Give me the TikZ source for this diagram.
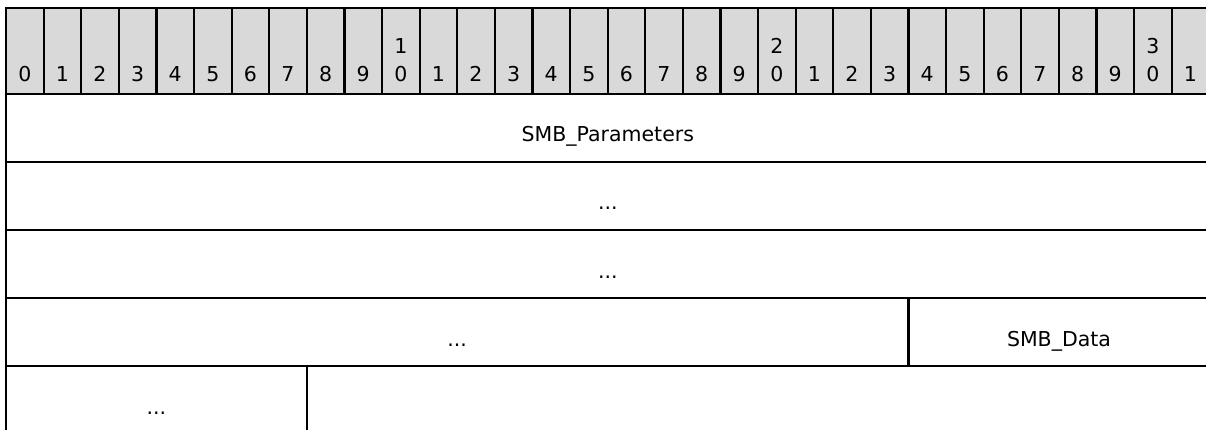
\documentclass[tikz,border=0pt]{standalone}
\usepackage{fontspec}
\setmainfont{DejaVu Sans}

\tikzset{
  bitcell/.style={draw, fill=black!15},
  fieldcell/.style={draw},
  fieldtext/.style={anchor=base, inner sep=0pt, font=\fontsize{20.5}{28}\selectfont}
}

\begin{document}
\begin{tikzpicture}[x=1pt, y=-1pt, line width=2.2pt]

		% Page size, the right and bottom edges are cut off
		\useasboundingbox (0,0) rectangle (1206,430);

		% Header row with the bit numbers
		\foreach \i in {0,...,31} {
			\draw[bitcell] (6+\i*37.6,8) rectangle (43.6+\i*37.6,94);
			\pgfmathtruncatemacro{\lo}{mod(\i,10)}
			\pgfmathtruncatemacro{\hi}{div(\i,10)}
			\node[fieldtext] (bit\i) at (24.8+\i*37.6,82) {\lo};
			\ifnum\lo=0 \ifnum\hi>0
				\node[fieldtext] (bithi\i) at (24.8+\i*37.6,54) {\hi};
			\fi\fi
		}

		% Fields
		\draw[fieldcell] (6,94) rectangle (1209.7,162);
		\node[fieldtext] (params) at (607.8,142) {SMB\_Parameters};

		\draw[fieldcell] (6,162) rectangle (1209.7,230);
		\node[fieldtext] (dotsa) at (607.8,210) {...};

		\draw[fieldcell] (6,230) rectangle (1209.7,298);
		\node[fieldtext] (dotsb) at (607.8,278) {...};

		\draw[fieldcell] (6,298) rectangle (908.4,366);
		\node[fieldtext] (dotsc) at (457.2,346) {...};
		\draw[fieldcell] (908.4,298) rectangle (1209.7,366);
		\node[fieldtext] (data) at (1059,346) {SMB\_Data};

		\draw[fieldcell] (6,366) rectangle (306.8,434);
		\node[fieldtext] (dotsd) at (156.4,414) {...};

\end{tikzpicture}
\end{document}
